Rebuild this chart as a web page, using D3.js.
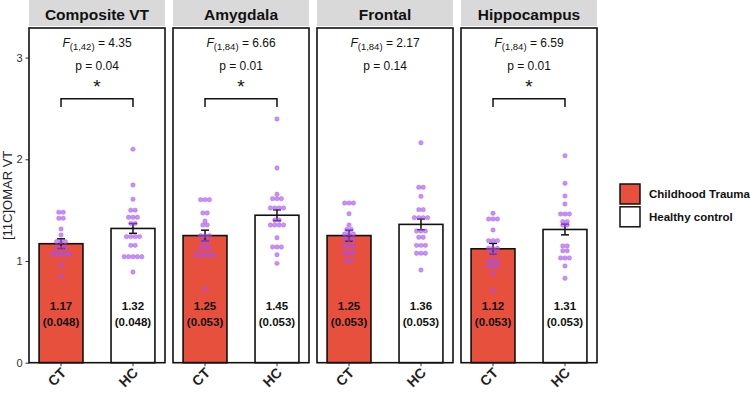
<!DOCTYPE html>
<html><head><meta charset="utf-8">
<script src="https://cdn.jsdelivr.net/npm/d3@7"></script>
<style>body{margin:0;background:#fff}svg{display:block}text{font-family:"Liberation Sans",Arial,sans-serif}</style>
</head><body><svg id="c" width="750" height="394"></svg>
<script>
const regions = ["Composite VT","Amygdala","Frontal","Hippocampus"];
const groups = ["CT","HC"];
const groupNames = ["Childhood Trauma","Healthy control"];
const meansCT = [1.17,1.25,1.25,1.12];
const meansHC = [1.32,1.45,1.36,1.31];
const seCT = [0.048,0.053,0.053,0.053];
const seHC = [0.048,0.053,0.053,0.053];
const fDf = ["(1,42)","(1,84)","(1,84)","(1,84)"];
const fVal = ["4.35","6.66","2.17","6.59"];
const pVal = ["0.04","0.01","0.14","0.01"];
const signif = [true,true,false,true];
const yTicks = [0,1,2,3];
const dotsCT = [
  [1.48,1.48,1.42,1.42,1.315,1.256,1.19,1.19,1.19,1.125,1.125,1.125,1.066,1.066,1.066,1.066,1.066,0.958,0.85],
  [1.603,1.603,1.603,1.472,1.472,1.393,1.354,1.354,1.249,1.249,1.249,1.19,1.19,1.131,1.131,1.131,1.059,1.059,1.059,1.059,1.059,0.725],
  [1.57,1.57,1.57,1.465,1.354,1.31,1.31,1.265,1.265,1.265,1.213,1.213,1.213,1.147,1.147,1.147,1.079,1.079,1.079,1.003,1.003],
  [1.469,1.413,1.413,1.413,1.305,1.2,1.2,1.2,1.125,1.125,1.125,1.076,1.076,1.003,1.003,1.003,0.951,0.951,0.951,0.879,0.71]
];
const dotsHC = [
  [2.10,1.747,1.607,1.50,1.50,1.43,1.43,1.43,1.37,1.37,1.24,1.24,1.24,1.24,1.154,1.154,1.042,1.042,1.042,1.042,1.042,0.892],
  [2.396,1.914,1.656,1.613,1.613,1.613,1.521,1.521,1.521,1.521,1.403,1.403,1.354,1.354,1.354,1.354,1.229,1.138,1.138,1.138,1.062,0.977],
  [2.163,1.725,1.725,1.636,1.505,1.505,1.426,1.426,1.426,1.426,1.295,1.295,1.295,1.233,1.233,1.154,1.154,1.154,1.076,1.076,1.076,0.911],
  [2.035,1.764,1.639,1.56,1.462,1.462,1.462,1.387,1.387,1.354,1.354,1.148,1.148,1.10,1.10,1.03,1.03,1.03,0.951,0.83]
];

const svg = d3.select("#c");
const red = "#E8503E", purple = "#A64DF5";
const yTop = 28, yBot = 362.7;
const y = d3.scaleLinear().domain([0,3.291]).range([yBot, yTop]);
const px = d3.scaleBand().domain(regions).range([29,597]).paddingInner(8/144).paddingOuter(0);
const xb = d3.scaleBand().domain(groups).range([0, px.bandwidth()]).paddingInner(0.39).paddingOuter(0.14);

const ya = svg.append("g").attr("transform",`translate(${px(regions[0])},0)`)
  .call(d3.axisLeft(y).tickValues(yTicks).tickSize(3.5).tickPadding(3).tickFormat(d3.format("d")));
ya.select(".domain").remove();
ya.selectAll("line").attr("stroke","#333").attr("stroke-width",1);
ya.selectAll("text").attr("font-size",11).attr("fill","#333");
svg.append("text").attr("transform",`translate(12,${(yTop+yBot)/2}) rotate(-90)`)
  .attr("text-anchor","middle").attr("font-size",13).attr("fill","#222").text("[11C]OMAR VT");

regions.forEach((r,i)=>{
  const g = svg.append("g").attr("transform",`translate(${px(r)},0)`);
  const W = px.bandwidth();
  g.append("rect").attr("x",0).attr("y",0).attr("width",W).attr("height",26).attr("fill","#d9d9d9");
  g.append("text").attr("x",W/2).attr("y",19.5).attr("text-anchor","middle").attr("font-size",15.5)
    .attr("font-weight","bold").attr("fill","#111").text(r);
  const means=[meansCT[i],meansHC[i]], ses=[seCT[i],seHC[i]], dots=[dotsCT[i],dotsHC[i]];
  groups.forEach((gr,j)=>{
    const cx = xb(gr)+xb.bandwidth()/2;
    g.append("rect").attr("x",xb(gr)).attr("y",y(means[j])).attr("width",xb.bandwidth())
      .attr("height",y(0)-y(means[j])).attr("fill",j===0?red:"#fff").attr("stroke","#111").attr("stroke-width",1.6);
    const lo=y(means[j]-ses[j]), hi=y(means[j]+ses[j]);
    g.append("line").attr("x1",cx).attr("x2",cx).attr("y1",lo).attr("y2",hi).attr("stroke","#111").attr("stroke-width",1.5);
    [lo,hi].forEach(v=>g.append("line").attr("x1",cx-4).attr("x2",cx+4).attr("y1",v).attr("y2",v).attr("stroke","#111").attr("stroke-width",1.5));
    const bins = d3.groups(dots[j], d=>d);
    bins.forEach(([v,arr])=>{
      const k=arr.length;
      arr.forEach((_,m)=>{
        g.append("circle").attr("cx",cx+(m-(k-1)/2)*4.4).attr("cy",y(v)).attr("r",2.2)
          .attr("fill",purple).attr("fill-opacity",0.62).attr("stroke",purple).attr("stroke-opacity",0.75).attr("stroke-width",0.5);
      });
    });
    g.append("text").attr("x",cx).attr("y",y(0.56)+4).attr("text-anchor","middle").attr("font-size",11.5)
      .attr("font-weight","bold").attr("fill","#111").text(means[j].toFixed(2));
    g.append("text").attr("x",cx).attr("y",y(0.40)+4).attr("text-anchor","middle").attr("font-size",11.5)
      .attr("font-weight","bold").attr("fill","#111").text("("+ses[j].toFixed(3)+")");
    g.append("line").attr("x1",cx).attr("x2",cx).attr("y1",yBot).attr("y2",yBot+3.5).attr("stroke","#333");
    g.append("text").attr("transform",`translate(${cx+6},${yBot+11}) rotate(-45)`).attr("text-anchor","end")
      .attr("font-size",14).attr("font-weight","bold").attr("fill","#222").text(gr);
  });
  g.append("rect").attr("x",0).attr("y",yTop).attr("width",W).attr("height",yBot-yTop)
    .attr("fill","none").attr("stroke","#111").attr("stroke-width",1.6);
  const ft = g.append("text").attr("x",W/2).attr("y",47).attr("text-anchor","middle").attr("font-size",12).attr("fill","#111");
  ft.append("tspan").attr("font-style","italic").text("F");
  ft.append("tspan").attr("font-size",9.5).attr("dy",3).text(fDf[i]);
  ft.append("tspan").attr("dy",-3).text(" = "+fVal[i]);
  g.append("text").attr("x",W/2).attr("y",69.5).attr("text-anchor","middle").attr("font-size",12).attr("fill","#111").text("p = "+pVal[i]);
  if(signif[i]){
    g.append("text").attr("x",W/2).attr("y",93).attr("text-anchor","middle").attr("font-size",19).attr("fill","#111").text("*");
    const x1=xb("CT")+xb.bandwidth()/2, x2=xb("HC")+xb.bandwidth()/2;
    g.append("path").attr("d",`M${x1},107V98.7H${x2}V107`).attr("fill","none").attr("stroke","#111").attr("stroke-width",1.5);
  }
});

const lg = svg.append("g").attr("transform","translate(620,184)");
groupNames.forEach((n,j)=>{
  lg.append("rect").attr("x",0).attr("y",j*22.8).attr("width",20).attr("height",20)
    .attr("fill",j===0?red:"#fff").attr("stroke","#111").attr("stroke-width",1.5);
  lg.append("text").attr("x",29).attr("y",j*22.8+14.2).attr("font-size",11.5).attr("font-weight","bold").attr("fill","#111").text(n);
});
</script></body></html>
